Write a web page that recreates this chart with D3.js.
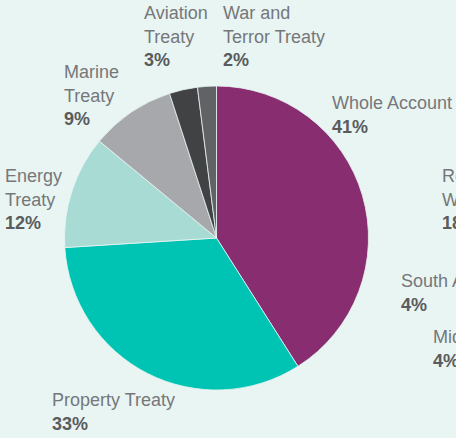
<!DOCTYPE html>
<html>
<head>
<meta charset="utf-8">
<script src="https://cdn.jsdelivr.net/npm/d3@7"></script>
<style>
  html, body { margin: 0; padding: 0; background: #e8f5f3; overflow: hidden; }
  svg { display: block; }
  .lbl { font-family: "Liberation Sans", Arial, sans-serif; font-size: 18px; fill: #76777a; }
  .pct { font-weight: bold; fill: #5a5b5d; }
</style>
</head>
<body>
<svg id="chart"></svg>
<script>
// Slices, clockwise from 12 o'clock
const categories = [
  ["Whole Account"],
  ["Property Treaty"],
  ["Energy", "Treaty"],
  ["Marine", "Treaty"],
  ["Aviation", "Treaty"],
  ["War and", "Terror Treaty"]
];
const shares = [41, 33, 12, 9, 3, 2];
const colors = ["#872d70", "#00c4b3", "#a9dbd5", "#a7a8ab", "#414244", "#616265"];

// labels of the neighbouring chart, cut off by the right edge
const sideLabels = [
  ["Rest of", "World"],
  ["South America"],
  ["Middle East"]
];
const sideShares = [18, 4, 4];

// label anchors (left x, first baseline y)
const labelPos = [[332, 109], [52, 406], [5, 182], [64, 78], [144, 19], [223, 19]];
const sidePos = [[442, 182], [401, 287], [433, 343]];

const width = 456, height = 438;
const cx = 216.5, cy = 238, radius = 152, lineH = 23.5;

const svg = d3.select("#chart")
  .attr("width", width)
  .attr("height", height);

const pie = d3.pie()
  .sort(null)
  .value(d => d)
  .startAngle(0)
  .endAngle(2 * Math.PI);

const arc = d3.arc()
  .innerRadius(0)
  .outerRadius(radius);

const chart = svg.append("g")
  .attr("transform", `translate(${cx},${cy})`);

chart.selectAll("path")
  .data(pie(shares))
  .join("path")
  .attr("d", arc)
  .attr("fill", (d, i) => colors[i])
  .attr("stroke", "#e8f5f3")
  .attr("stroke-width", 0.8);

function addLabel(lines, value, pos) {
  const t = svg.append("text")
    .attr("class", "lbl")
    .attr("x", pos[0])
    .attr("y", pos[1]);
  lines.forEach((s, k) => {
    t.append("tspan")
      .attr("x", pos[0])
      .attr("dy", k === 0 ? 0 : lineH)
      .text(s);
  });
  t.append("tspan")
    .attr("class", "pct")
    .attr("x", pos[0])
    .attr("dy", lineH)
    .text(value + "%");
}

categories.forEach((c, i) => addLabel(c, shares[i], labelPos[i]));
sideLabels.forEach((c, i) => addLabel(c, sideShares[i], sidePos[i]));
</script>
</body>
</html>
